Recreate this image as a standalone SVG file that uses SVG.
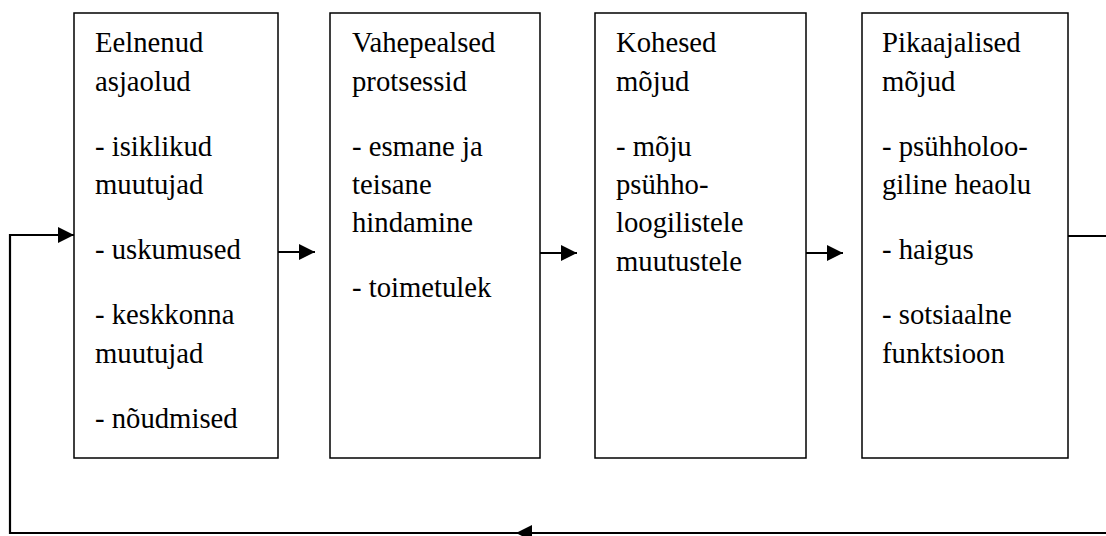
<svg xmlns="http://www.w3.org/2000/svg" width="1106" height="536" viewBox="0 0 1106 536">
<style>
.box{fill:#fff;stroke:#000;stroke-width:1.5}
.t{font-family:"Liberation Serif","Times New Roman",serif;font-size:28.7px;fill:#000}
.c{fill:none;stroke:#000;stroke-width:2.2}
</style>
<defs>
<marker id="ah" viewBox="0 0 16 16" refX="16" refY="8" markerWidth="16" markerHeight="16" markerUnits="userSpaceOnUse" orient="auto">
<path d="M0,0 L16,8 L0,16 Z" fill="#000"/>
</marker>
</defs>
<rect width="1106" height="536" fill="#fff"/>
<g id="connectors">
<path class="c" d="M278,252 H315" marker-end="url(#ah)"/>
<path class="c" d="M540,253 H577" marker-end="url(#ah)"/>
<path class="c" d="M806,253 H843" marker-end="url(#ah)"/>
<path class="c" d="M1068,236 H1106"/>
<path class="c" d="M1106,533 H516" marker-end="url(#ah)"/>
<path class="c" d="M516,533 H10 V235 H74" marker-end="url(#ah)"/>
</g>
<g id="node1">
<rect class="box" x="74" y="13" width="204" height="445"/>
<text class="t" x="95"><tspan x="95" y="52">Eelnenud</tspan><tspan x="95" y="90.5">asjaolud</tspan><tspan x="95" y="155.5">- isiklikud</tspan><tspan x="95" y="194">muutujad</tspan><tspan x="95" y="259">- uskumused</tspan><tspan x="95" y="324">- keskkonna</tspan><tspan x="95" y="362.5">muutujad</tspan><tspan x="95" y="427.5">- nõudmised</tspan></text>
</g>
<g id="node2">
<rect class="box" x="330" y="13" width="210" height="445"/>
<text class="t" x="352"><tspan x="352" y="52">Vahepealsed</tspan><tspan x="352" y="90.5">protsessid</tspan><tspan x="352" y="155.5">- esmane ja</tspan><tspan x="352" y="194">teisane</tspan><tspan x="352" y="232">hindamine</tspan><tspan x="352" y="297">- toimetulek</tspan></text>
</g>
<g id="node3">
<rect class="box" x="595" y="13" width="211" height="445"/>
<text class="t" x="616"><tspan x="616" y="52">Kohesed</tspan><tspan x="616" y="90.5">mõjud</tspan><tspan x="616" y="155.5">- mõju</tspan><tspan x="616" y="194">psühho-</tspan><tspan x="616" y="232">loogilistele</tspan><tspan x="616" y="270.5">muutustele</tspan></text>
</g>
<g id="node4">
<rect class="box" x="862" y="13" width="206" height="445"/>
<text class="t" x="882"><tspan x="882" y="52">Pikaajalised</tspan><tspan x="882" y="90.5">mõjud</tspan><tspan x="882" y="155.5">- psühholoo-</tspan><tspan x="882" y="194">giline heaolu</tspan><tspan x="882" y="259">- haigus</tspan><tspan x="882" y="324">- sotsiaalne</tspan><tspan x="882" y="362.5">funktsioon</tspan></text>
</g>
</svg>
